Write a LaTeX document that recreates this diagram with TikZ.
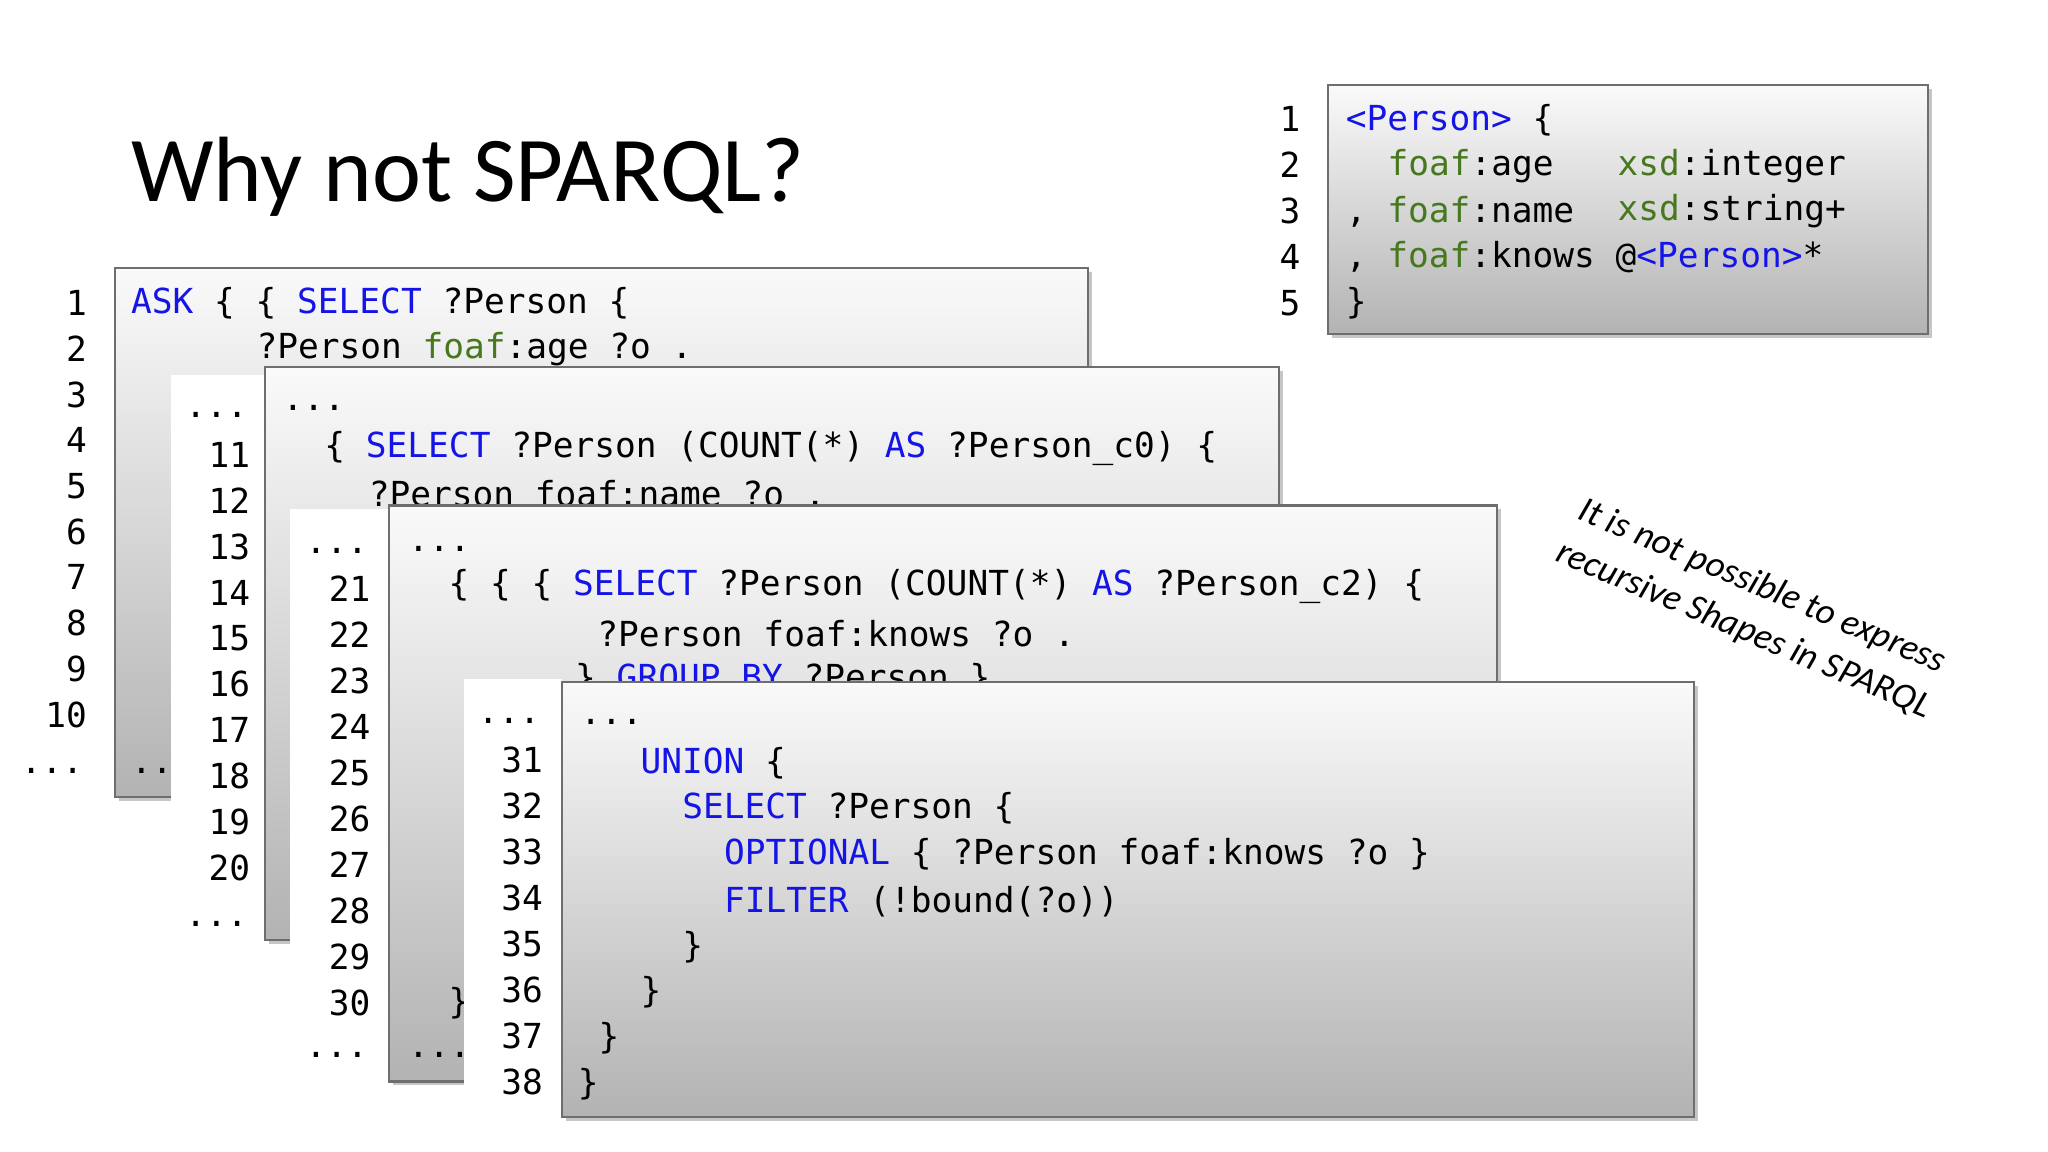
\documentclass[tikz,border=0pt]{standalone}
\usepackage{fontspec}
\setmainfont{Carlito}
\newfontfamily\codefont{DejaVu Sans Mono}
\definecolor{kw}{RGB}{20,20,230}
\definecolor{ns}{RGB}{70,120,30}
\definecolor{bd}{RGB}{110,110,110}
\newcommand{\K}[1]{\textcolor{kw}{#1}}
\newcommand{\N}[1]{\textcolor{ns}{#1}}
\begin{document}
\begin{tikzpicture}[x=0.5pt,y=-0.5pt,
  code/.style={font=\codefont\fontsize{13.2}{15}\selectfont,anchor=west,inner sep=0pt,yshift=-1pt},
  num/.style={font=\codefont\fontsize{13.2}{15}\selectfont,anchor=east,inner sep=0pt,yshift=-1pt},
  panel/.style={draw=bd,line width=0.8pt,top color=white!96!gray,bottom color=gray!60},
  shadowbox/.style={fill=gray!45,draw=none},
  col/.style={fill=white,draw=none}]
\useasboundingbox (0,0) rectangle (1568,882);
\node[font=\fontsize{35.5}{40}\selectfont,anchor=west,inner sep=0pt] (title) at (100,135) {Why not SPARQL?};
% box 1
\fill[shadowbox] (91,208) rectangle (836,613);
\path[panel] (88,205) rectangle (833,610);
\foreach \i in {1,...,10} \node[num] (a\i) at (67,230+35*\i-35) {\i};
\node[num] (ad) at (64,588) {...};
\node[code] (a1t) at (100,230) {\K{ASK} \{ \{ \K{SELECT} ?Person \{};
\node[code] (a2t) at (196,265) {?Person \N{foaf}:age ?o .};
\node[code] (a3t) at (100,588) {...};
% column 2
\fill[col] (131,287) rectangle (203,730);
\node[num] (bd1) at (190,316) {...};
\foreach \i [count=\k from 0] in {11,...,20} \node[num] (b\i) at (192,346+35.2*\k) {\i};
\node[num] (bd2) at (190,705) {...};
% box 2
\fill[shadowbox] (206,284) rectangle (982,723);
\path[panel] (203,281) rectangle (979,720);
\node[code] (b1t) at (216,310) {...};
\node[code] (b2t) at (248,341) {\{ \K{SELECT} ?Person (COUNT(*) \K{AS} ?Person\_c0) \{};
\node[code] (b3t) at (282,376) {?Person foaf:name ?o .};
% column 3
\fill[col] (222,390) rectangle (298,830);
\node[num] (cd1) at (282,420) {...};
\foreach \i [count=\k from 0] in {21,...,30} \node[num] (c\i) at (284,449+35.2*\k) {\i};
\node[num] (cd2) at (282,806) {...};
% box 3
\fill[shadowbox] (301,390) rectangle (1149,831);
\path[panel] (298,387) rectangle (1146,828);
\node[code] (c1t) at (312,418) {...};
\node[code] (c2t) at (343,447) {\{ \{ \{ \K{SELECT} ?Person (COUNT(*) \K{AS} ?Person\_c2) \{};
\node[code] (c3t) at (457,483) {?Person foaf:knows ?o .};
\node[code] (c4t) at (440,518) {\} \K{GROUP BY} ?Person \}};
\node[code] (c5t) at (343,766) {\}};
\node[code] (c6t) at (312,806) {...};
% column 4
\fill[col] (355,520) rectangle (430,865);
\node[num] (dd1) at (414,550) {...};
\foreach \i [count=\k from 0] in {31,...,38} \node[num] (d\i) at (416,580+35.2*\k) {\i};
% box 4
\fill[shadowbox] (433,525) rectangle (1300,858);
\path[panel] (430,522) rectangle (1297,855);
\node[code] (d1t) at (444,551) {...};
\node[code] (d2t) at (490,582) {\K{UNION} \{};
\node[code] (d3t) at (522,617) {\K{SELECT} ?Person \{};
\node[code] (d4t) at (554,652) {\K{OPTIONAL} \{ ?Person foaf:knows ?o \}};
\node[code] (d5t) at (554,688) {\K{FILTER} (!bound(?o))};
\node[code] (d6t) at (522,723) {\}};
\node[code] (d7t) at (490,758) {\}};
\node[code] (d8t) at (458,793) {\}};
\node[code] (d9t) at (442,828) {\}};
% ShEx box
\fill[shadowbox] (1020,68) rectangle (1479,259);
\path[panel] (1017,65) rectangle (1476,256);
\foreach \i in {1,...,5} \node[num] (e\i) at (996,89+35.2*\i-35.2) {\i};
\node[code] (e1t) at (1030,90) {\K{<Person>} \{};
\node[code] (e2t) at (1062,125) {\N{foaf}:age};
\node[code] (e2u) at (1238,125) {\N{xsd}:integer};
\node[code] (e3t) at (1030,160) {, \N{foaf}:name};
\node[code] (e3u) at (1238,160) {\N{xsd}:string+};
\node[code] (e4t) at (1030,195) {, \N{foaf}:knows @\K{<Person>}*};
\node[code] (e5t) at (1030,230) {\}};
% note
\node[font=\itshape\fontsize{14}{18}\selectfont,align=center,rotate=-23,inner sep=0pt] (note) at (1342,466)
  {It is not possible to express\\recursive Shapes in SPARQL};
\end{tikzpicture}
\end{document}
